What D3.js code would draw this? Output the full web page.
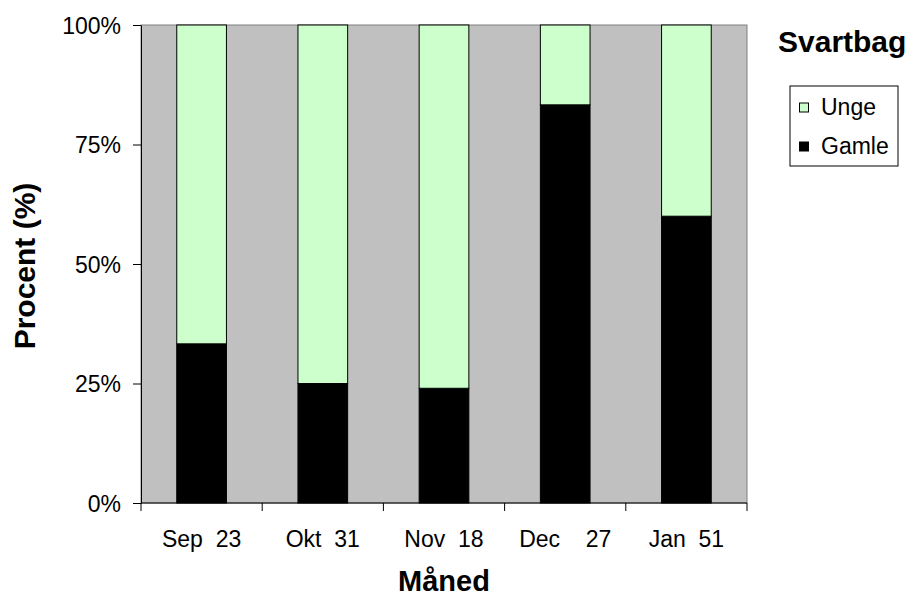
<!DOCTYPE html>
<html>
<head>
<meta charset="utf-8">
<script src="https://cdn.jsdelivr.net/npm/d3@7"></script>
<style>
    body { margin: 0; background: #fff; }
    text { font-family: Arial, "Liberation Sans", sans-serif; }
</style>
</head>
<body>
<svg id="chart" width="914" height="597"></svg>
<script>
// data
const months = ["Sep  23", "Okt  31", "Nov  18", "Dec    27", "Jan  51"];
const gamle = [33.3, 25, 24, 83.3, 60];
const unge = [66.7, 75, 76, 16.7, 40];
const yTicks = [0, 25, 50, 75, 100];
const seriesNames = ["Unge", "Gamle"];
const seriesColors = ["#ccffcc", "#000000"];

let svg = d3.select("#chart");
let margin = {top: 25, right: 167, bottom: 94, left: 141};
let width = +svg.attr("width") - margin.left - margin.right;
let height = +svg.attr("height") - margin.top - margin.bottom;

let g = svg.append("g")
    .attr("transform", `translate(${margin.left},${margin.top})`);

let x_scale = d3.scaleBand()
    .domain(months)
    .range([0, width])
    .paddingInner(0.59)
    .paddingOuter(0.295);

let y_scale = d3.scaleLinear()
    .domain([0, 100])
    .range([height, 0]);

// plot background
g.append("rect")
    .attr("x", 0).attr("y", 0)
    .attr("width", width).attr("height", height)
    .attr("fill", "#c0c0c0")
    .attr("stroke", "#808080")
    .attr("stroke-width", 1);

// bars
let rows = months.map((m, i) => ({month: m, Gamle: gamle[i], Unge: unge[i]}));
let stacked = d3.stack().keys(["Gamle", "Unge"])(rows);

stacked.forEach(layer => {
    let color = layer.key === "Gamle" ? seriesColors[1] : seriesColors[0];
    g.append("g")
        .selectAll("rect")
        .data(layer)
        .join("rect")
        .attr("x", d => x_scale(d.data.month))
        .attr("y", d => y_scale(d[1]))
        .attr("width", x_scale.bandwidth())
        .attr("height", d => y_scale(d[0]) - y_scale(d[1]))
        .attr("fill", color)
        .attr("stroke", "#000")
        .attr("stroke-width", 1);
});

// y axis
let yAxis = g.append("g")
    .call(d3.axisLeft(y_scale).tickValues(yTicks).tickFormat(d => d + "%").tickSize(8).tickSizeOuter(0));
yAxis.select(".domain").attr("stroke", "#000");
yAxis.selectAll("text")
    .attr("font-size", "23px")
    .attr("font-family", "Arial, 'Liberation Sans', sans-serif")
    .attr("fill", "#000")
    .attr("x", -20)
    .attr("dy", "0.35em");

// x axis - ticks between categories
let xAxis = g.append("g")
    .attr("transform", `translate(0,${height})`);
xAxis.append("line")
    .attr("x1", 0).attr("x2", width)
    .attr("stroke", "#000");
d3.range(months.length + 1).forEach(i => {
    let xp = i * width / months.length;
    xAxis.append("line")
        .attr("x1", xp).attr("x2", xp)
        .attr("y1", 0).attr("y2", 8)
        .attr("stroke", "#000");
});
xAxis.selectAll(".xlab")
    .data(months)
    .join("text")
    .attr("class", "xlab")
    .attr("x", d => x_scale(d) + x_scale.bandwidth() / 2)
    .attr("y", 44)
    .attr("text-anchor", "middle")
    .attr("font-size", "23px")
    .style("white-space", "pre")
    .text(d => d);

// axis titles
svg.append("text")
    .attr("x", margin.left + width / 2)
    .attr("y", 591)
    .attr("text-anchor", "middle")
    .attr("font-size", "29px")
    .attr("font-weight", "bold")
    .text("Måned");

svg.append("text")
    .attr("transform", `translate(35,${margin.top + height / 2 + 2}) rotate(-90)`)
    .attr("text-anchor", "middle")
    .attr("font-size", "30px")
    .attr("font-weight", "bold")
    .text("Procent (%)");

// legend
svg.append("text")
    .attr("x", 778)
    .attr("y", 52)
    .attr("font-size", "30px")
    .attr("font-weight", "bold")
    .text("Svartbag");

let legend = svg.append("g").attr("transform", "translate(790,86)");
legend.append("rect")
    .attr("width", 108).attr("height", 80)
    .attr("fill", "#fff")
    .attr("stroke", "#000");

seriesNames.forEach((name, i) => {
    legend.append("rect")
        .attr("x", 9.5).attr("y", 17 + i * 39)
        .attr("width", 9).attr("height", 9)
        .attr("fill", seriesColors[i])
        .attr("stroke", "#000");
    legend.append("text")
        .attr("x", 31).attr("y", 28.5 + i * 39)
        .attr("font-size", "23px")
        .text(name);
});
</script>
</body>
</html>
